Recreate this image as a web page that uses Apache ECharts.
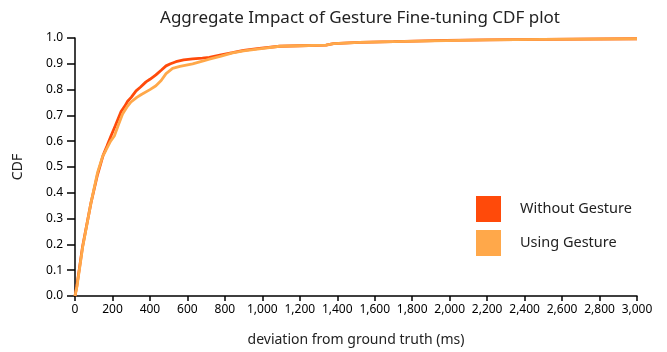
<!DOCTYPE html>
<html><head><meta charset="utf-8">
<script src="https://cdn.jsdelivr.net/npm/echarts@6/dist/echarts.min.js"></script>
<style>html,body{margin:0;padding:0;background:#fff}#c{width:667px;height:352px}</style>
</head><body><div id="c"></div>
<script>
const titleText = 'Aggregate Impact of Gesture Fine-tuning CDF plot';
const seriesNames = ['Without Gesture', 'Using Gesture'];
const withoutX = [0,10,40,85,120,140,150,170,192,215,246,265,281,300,326,350,379,400,432,460,486,510,539,580,628,680,717,780,841,900,984,1092,1200,1340,1380,1518,1700,1981,2200,2500,3000];
const withoutY = [0,0.04,0.19,0.36,0.47,0.52,0.545,0.58,0.62,0.66,0.715,0.735,0.755,0.77,0.795,0.81,0.83,0.84,0.857,0.875,0.892,0.9,0.908,0.915,0.919,0.922,0.925,0.935,0.943,0.952,0.96,0.968,0.97,0.972,0.978,0.983,0.986,0.991,0.993,0.995,0.997];
const usingX = [0,10,41,85,121,147,165,190,210,230,254,280,299,330,352,400,432,460,486,521,560,628,680,717,780,841,900,984,1092,1200,1340,1380,1518,1700,1981,2200,2500,3000];
const usingY = [0,0.035,0.19,0.36,0.48,0.54,0.565,0.6,0.62,0.66,0.705,0.735,0.752,0.77,0.78,0.8,0.815,0.835,0.862,0.882,0.89,0.9,0.91,0.918,0.93,0.942,0.95,0.958,0.968,0.97,0.972,0.978,0.983,0.986,0.99,0.993,0.995,0.997];
const xLabel = 'deviation from ground truth (ms)';
const yLabel = 'CDF';

const FONT = 'Noto Sans';
const chart = echarts.init(document.getElementById('c'), null, {renderer:'canvas'});
const zip = (xs, ys) => xs.map((x,i)=>[x, ys[i]]);
chart.setOption({
  animation:false,
  textStyle:{fontFamily:FONT},
  title:{text:titleText, left:355, top:5, textAlign:'center',
    textStyle:{fontFamily:FONT, fontSize:17, fontWeight:'normal', color:'#222'}},
  grid:{left:75, right:30, top:38, bottom:55, containLabel:false},
  legend:{orient:'vertical', left:476, top:196, padding:0, itemWidth:25, itemHeight:26, itemGap:8, icon:'rect',
    data:seriesNames,
    textStyle:{fontFamily:FONT, fontSize:14.5, color:'#222', padding:[0,0,0,14]}},
  xAxis:{type:'value', min:0, max:3000, interval:200,
    name:xLabel, nameLocation:'middle', nameGap:37,
    nameTextStyle:{fontFamily:FONT, fontSize:14, color:'#222'},
    axisLine:{lineStyle:{color:'#000', width:1.5}},
    axisTick:{show:true, length:5, lineStyle:{color:'#000', width:1.5}},
    axisLabel:{fontFamily:FONT, fontSize:12, color:'#000', margin:8,
      formatter:v=>v.toLocaleString('en-US')},
    splitLine:{show:false}},
  yAxis:{type:'value', min:0, max:1, interval:0.1,
    name:yLabel, nameLocation:'middle', nameGap:50, nameRotate:90,
    nameTextStyle:{fontFamily:FONT, fontSize:14, color:'#222'},
    axisLine:{show:true, lineStyle:{color:'#000', width:1.5}},
    axisTick:{show:true, length:8, lineStyle:{color:'#000', width:1.5}},
    axisLabel:{fontFamily:FONT, fontSize:12, color:'#000', margin:12, formatter:v=>v.toFixed(1)},
    splitLine:{show:false}},
  series:[
    {name:seriesNames[0], type:'line', data:zip(withoutX, withoutY), showSymbol:false, symbol:'none',
      color:'#FF4A0A', lineStyle:{width:2.8, color:'#FF4A0A'}, z:2},
    {name:seriesNames[1], type:'line', data:zip(usingX, usingY), showSymbol:false, symbol:'none',
      color:'#FFA84A', lineStyle:{width:2.8, color:'#FFA84A'}, z:3}
  ]
});
</script></body></html>
